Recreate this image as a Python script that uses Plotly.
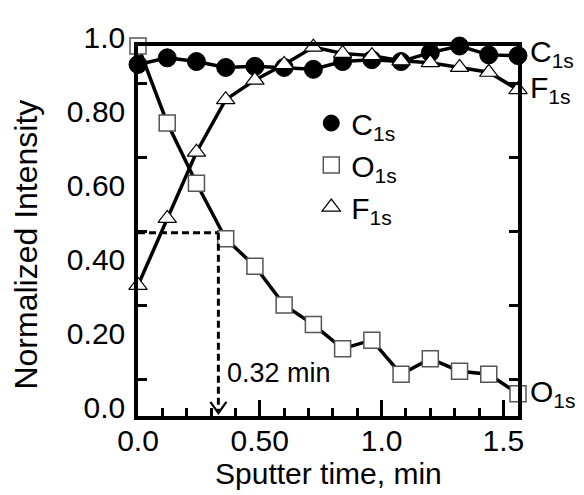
import plotly.graph_objects as go

# ---- data ----
sputter_time = [0.00, 0.12, 0.24, 0.36, 0.48, 0.60, 0.72, 0.84, 0.96, 1.08, 1.20, 1.32, 1.44, 1.56]
c1s = [0.950, 0.968, 0.958, 0.942, 0.945, 0.942, 0.937, 0.958, 0.963, 0.958, 0.982, 1.000, 0.976, 0.974]
o1s = [1.000, 0.792, 0.629, 0.479, 0.405, 0.300, 0.247, 0.182, 0.205, 0.113, 0.155, 0.121, 0.113, 0.060]
f1s = [0.353, 0.534, 0.713, 0.855, 0.908, 0.950, 0.997, 0.980, 0.974, 0.960, 0.955, 0.942, 0.929, 0.882]

x_tickvals = [0.0, 0.5, 1.0, 1.5]
x_ticktext = ["0.0", "0.50", "1.0", "1.5"]
y_tickvals = [0.0, 0.2, 0.4, 0.6, 0.8, 1.0]
y_ticktext = ["0.0", "0.20", "0.40", "0.60", "0.80", "1.0"]
y_minor = [0.1, 0.3, 0.5, 0.7, 0.9]

half_time = 0.33          # where the dashed marker falls
half_level = 0.495
half_label = "0.32 min"

FONT = "Liberation Sans, Arial, sans-serif"

fig = go.Figure()

series = [
    ("C<sub>1s</sub>", c1s, dict(symbol="circle", size=18, color="black", line=dict(color="black", width=1))),
    ("F<sub>1s</sub>", f1s, dict(symbol="triangle-up", size=16, color="white", line=dict(color="black", width=1.2))),
    ("O<sub>1s</sub>", o1s, dict(symbol="square", size=16, color="white", line=dict(color="#555555", width=1.5))),
]
for name, vals, mk in series:
    fig.add_trace(go.Scatter(x=sputter_time, y=vals, mode="lines+markers", name=name,
                             line=dict(color="black", width=3.5), marker=mk,
                             cliponaxis=False, showlegend=False))

# legend entries (markers only), in the reference order C, O, F
for name, mk in [("C<sub>1s</sub>", series[0][2]), ("O<sub>1s</sub>", series[2][2]), ("F<sub>1s</sub>", series[1][2])]:
    fig.add_trace(go.Scatter(x=[None], y=[None], mode="markers", name=name,
                             marker=dict(mk, size=22), showlegend=True))

# dashed guide lines
fig.add_shape(type="line", xref="x", yref="y", x0=0, x1=half_time, y0=half_level, y1=half_level,
              line=dict(color="black", width=3, dash="7px,4px"))
fig.add_shape(type="line", xref="x", yref="y", x0=half_time, x1=half_time, y0=half_level, y1=0.01,
              line=dict(color="black", width=3, dash="7px,4px"))
fig.add_shape(type="path", xref="x", yref="y",
              path=f"M {half_time-0.033} 0.038 L {half_time} 0.008 L {half_time+0.033} 0.038",
              line=dict(color="black", width=2.2))

fig.add_annotation(x=half_time, y=0.116, xref="x", yref="y", text=half_label, showarrow=False,
                   xanchor="left", yanchor="middle", xshift=7, font=dict(size=27, color="black", family=FONT))

# end-of-line labels
for name, vals, ys in [("C<sub>1s</sub>", c1s, 2), ("F<sub>1s</sub>", f1s, 0), ("O<sub>1s</sub>", o1s, 0)]:
    fig.add_annotation(x=1, xref="paper", y=vals[-1], yref="y", text=name, showarrow=False,
                       xanchor="left", yanchor="middle", xshift=10, yshift=ys,
                       font=dict(size=30, color="black", family=FONT))

# axis titles placed as texts
fig.add_annotation(x=0.5, xref="paper", y=-0.155, yref="paper", text="Sputter time, min",
                   showarrow=False, xanchor="center", yanchor="middle",
                   font=dict(size=30, color="black", family=FONT))
fig.add_annotation(x=-0.295, xref="paper", y=0.463, yref="paper", text="Normalized Intensity",
                   showarrow=False, xanchor="center", yanchor="middle", textangle=-90,
                   font=dict(size=32, color="black", family=FONT))

# page body has an 8px margin, so the figure is 8px smaller and margins are 8px less
fig.update_layout(
    width=576, height=487,
    margin=dict(l=130, r=66, t=28, b=79),
    paper_bgcolor="white", plot_bgcolor="white",
    font=dict(family=FONT, size=30, color="black"),
    legend=dict(x=0.456, y=0.862, xanchor="left", yanchor="top", bgcolor="rgba(0,0,0,0)",
                font=dict(size=30), tracegroupgap=0, itemwidth=30),
)
fig.update_xaxes(range=[0, 1.56], showline=True, linewidth=3.5, linecolor="black", mirror=True,
                 showgrid=False, zeroline=False,
                 tickmode="array", tickvals=x_tickvals, ticktext=x_ticktext,
                 ticks="inside", ticklen=16, tickwidth=3, tickcolor="black",
                 minor=dict(dtick=0.1, tick0=0, ticks="inside", ticklen=8, tickwidth=3, tickcolor="black"),
                 tickfont=dict(size=30), ticklabelstandoff=-5)
fig.update_yaxes(range=[0, 1.0], showline=True, linewidth=3.5, linecolor="black", mirror="ticks",
                 showgrid=False, zeroline=False,
                 tickmode="array", tickvals=y_tickvals, ticktext=y_ticktext,
                 ticks="inside", ticklen=0, tickwidth=0, tickcolor="black",
                 minor=dict(tickmode="array", tickvals=y_minor, ticks="inside", ticklen=9, tickwidth=3, tickcolor="black"),
                 tickfont=dict(size=30), ticklabelshift=-9, ticklabelstandoff=3,
                 ticklabeloverflow="allow")

fig.write_html("out.html")
